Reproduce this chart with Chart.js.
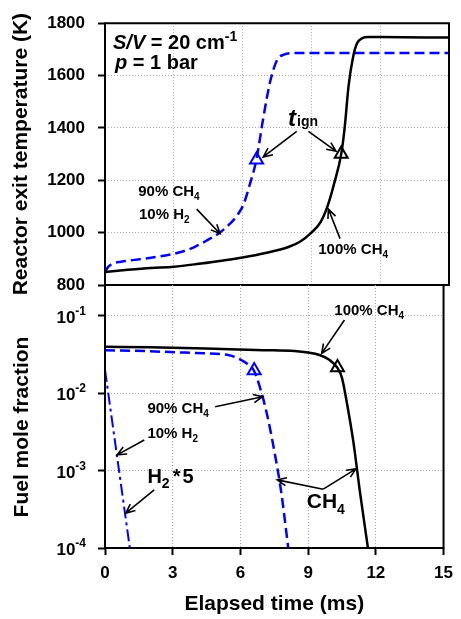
<!DOCTYPE html>
<html>
<head>
<meta charset="utf-8">
<script src="https://cdn.jsdelivr.net/npm/chart.js@4.4.1/dist/chart.umd.min.js"></script>
<style>
  html, body { margin: 0; padding: 0; background: #fff; }
  #wrap { position: relative; width: 461px; height: 619px; }
  #wrap canvas { position: absolute; left: 0; top: 0; }
</style>
</head>
<body>
<div id="wrap">
  <canvas id="tempChart" width="461" height="619"></canvas>
  <canvas id="fracChart" width="461" height="619"></canvas>
</div>
<script>
const FONT = "'Liberation Sans', Arial, Helvetica, sans-serif";

// axes
const timeTicks = [0, 3, 6, 9, 12, 15];
const tempTicks = [800, 1000, 1200, 1400, 1600, 1800];
const fracTickExps = [-4, -3, -2, -1];

// reactor exit temperature (K) vs elapsed time (ms)
const tempCH4Time = [0, 1, 2, 3, 4, 5, 6, 7, 8, 8.5, 9, 9.4, 9.7, 10, 10.3, 10.45, 10.62, 10.82, 11.0, 11.2, 11.5, 12, 15];
const tempCH4 = [850, 858, 865, 870, 880, 892, 905, 922, 945, 965, 1000, 1040, 1100, 1190, 1300, 1400, 1560, 1672, 1725, 1742, 1747, 1747, 1745];
const tempMixTime = [0, 0.15, 0.35, 0.7, 1.2, 2, 2.7, 3.3, 3.9, 4.4, 5.0, 5.45, 5.8, 6.05, 6.3, 6.6, 6.9, 7.2, 7.5, 7.8, 8.2, 9, 15];
const tempMix = [850, 870, 882, 889, 895, 904, 914, 926, 945, 968, 1000, 1034, 1070, 1110, 1180, 1278, 1437, 1576, 1659, 1680, 1686, 1686, 1686];

// fuel mole fraction vs elapsed time (ms)
const fracCH4Time = [0, 2, 4, 5.5, 7, 8.4, 9, 9.5, 9.9, 10.3, 10.5, 10.7, 11.0, 11.3, 11.65];
const fracCH4 = [0.0398, 0.0392, 0.0382, 0.0370, 0.0360, 0.0350, 0.0335, 0.0312, 0.0275, 0.0212, 0.0158, 0.0080, 0.0024, 0.00052, 0.0001];
const fracMixTime = [0, 2, 4, 5.5, 6.0, 6.3, 6.6, 6.9, 7.2, 7.5, 7.8, 8.12];
const fracMix = [0.0360, 0.0348, 0.0330, 0.0310, 0.0272, 0.0240, 0.0195, 0.0110, 0.0050, 0.00180, 0.00055, 0.0001];
const fracH2Time = [0, 0.25, 0.5, 0.75, 1.1];
const fracH2x5 = [0.02, 0.006, 0.0018, 0.00054, 0.0001];

// ignition markers (t_ign)
const ignMix = { t: 6.61, temp: 1278, frac: 0.0196 };
const ignCH4 = { t: 10.3, temp: 1300, frac: 0.0215 };

const BLUE = '#0000ff';
const toXY = (xs, ys) => xs.map((x, i) => ({ x, y: ys[i] }));
const lg = e => Math.pow(10, e);

// parts: [text, size, italic, baselineShift, gapBefore]
const drawParts = (ctx, x, y, parts) => {
  let cx = x;
  parts.forEach(([text, size, italic, shift, gap]) => {
    ctx.font = `${italic ? 'italic ' : ''}bold ${size}px ${FONT}`;
    cx += gap || 0;
    ctx.fillText(text, cx, y + (shift || 0));
    cx += ctx.measureText(text).width;
  });
};

const drawArrow = (ctx, x0, y0, x1, y1) => {
  const ang = Math.atan2(y1 - y0, x1 - x0);
  const head = 10, spread = 0.42;
  ctx.beginPath();
  ctx.moveTo(x0, y0);
  ctx.lineTo(x1, y1);
  ctx.moveTo(x1 - head * Math.cos(ang - spread), y1 - head * Math.sin(ang - spread));
  ctx.lineTo(x1, y1);
  ctx.lineTo(x1 - head * Math.cos(ang + spread), y1 - head * Math.sin(ang + spread));
  ctx.stroke();
};

// notes: text in data coordinates, arrows from -> to in data coordinates
const annotate = notes => ({
  id: 'annotate',
  afterDraw(chart) {
    const { ctx, scales: { x, y } } = chart;
    ctx.save();
    ctx.fillStyle = '#000';
    ctx.strokeStyle = '#000';
    ctx.lineWidth = 1.6;
    ctx.textAlign = 'left';
    ctx.textBaseline = 'alphabetic';
    notes.forEach(n => {
      if (n.arrow) {
        const [a, b, c, d] = n.arrow;
        drawArrow(ctx, x.getPixelForValue(a), y.getPixelForValue(b), x.getPixelForValue(c), y.getPixelForValue(d));
      } else {
        drawParts(ctx, x.getPixelForValue(n.at[0]), y.getPixelForValue(n.at[1]), n.parts);
      }
    });
    ctx.restore();
  }
});

const frame = sides => ({
  id: 'frame',
  afterDraw(chart) {
    const { ctx, chartArea: a } = chart;
    ctx.save();
    ctx.strokeStyle = '#000';
    ctx.lineWidth = 2;
    ctx.beginPath();
    if (sides.includes('t')) { ctx.moveTo(a.left - 1, a.top); ctx.lineTo(a.right + 1, a.top); }
    if (sides.includes('b')) { ctx.moveTo(a.left - 1, a.bottom); ctx.lineTo(a.right + 1, a.bottom); }
    if (sides.includes('l')) { ctx.moveTo(a.left, a.top); ctx.lineTo(a.left, a.bottom); }
    if (sides.includes('r')) { ctx.moveTo(a.right, a.top); ctx.lineTo(a.right, a.bottom); }
    ctx.stroke();
    ctx.restore();
  }
});

const fracLabels = {
  id: 'fracLabels',
  afterDraw(chart) {
    const { ctx, scales: { y } } = chart;
    ctx.save();
    ctx.fillStyle = '#000';
    ctx.textBaseline = 'alphabetic';
    fracTickExps.forEach(e => {
      const py = y.getPixelForValue(lg(e));
      ctx.font = `bold 17px ${FONT}`;
      const w1 = ctx.measureText('10').width;
      ctx.font = `bold 12px ${FONT}`;
      const w2 = ctx.measureText(String(e)).width;
      const x0 = 86 - w1 - w2;
      drawParts(ctx, x0, py + 7, [['10', 17], [String(e), 12, false, -8]]);
    });
    ctx.font = `bold 21px ${FONT}`;
    ctx.textAlign = 'center';
    ctx.textBaseline = 'middle';
    ctx.translate(22, 427);
    ctx.rotate(-Math.PI / 2);
    ctx.fillText('Fuel mole fraction', 0, 0);
    ctx.restore();
  }
};

const gridStyle = { color: '#a8a8a8', lineWidth: 1, tickLength: 7, tickWidth: 2, tickColor: '#000' };
const tickFont = { family: FONT, size: 17, weight: 'bold' };
const titleFont = { family: FONT, size: 21, weight: 'bold' };

const lineSet = (data, color, dash, width) => ({
  data, borderColor: color, borderWidth: width, borderDash: dash,
  pointRadius: 0, fill: false, cubicInterpolationMode: 'monotone'
});
const markerSet = (pt, color) => ({
  data: [pt], showLine: false, pointStyle: 'triangle', pointRadius: 7.5,
  pointBorderWidth: 2, pointBorderColor: color, pointBackgroundColor: '#fff'
});

new Chart(document.getElementById('tempChart'), {
  type: 'line',
  data: {
    datasets: [
      lineSet(toXY(tempCH4Time, tempCH4), '#000', [], 2.5),
      lineSet(toXY(tempMixTime, tempMix), BLUE, [10, 5], 2.5),
      markerSet({ x: ignMix.t, y: ignMix.temp }, BLUE),
      markerSet({ x: ignCH4.t, y: ignCH4.temp }, '#000')
    ]
  },
  options: {
    responsive: false, animation: false, devicePixelRatio: 1,
    layout: { padding: { left: 0, top: 21, right: 12, bottom: 619 - 285 } },
    plugins: { legend: { display: false }, tooltip: { enabled: false } },
    scales: {
      x: {
        type: 'linear', min: 0, max: 15,
        afterBuildTicks: s => { s.ticks = timeTicks.map(value => ({ value })); },
        afterFit: s => { s.height = 0; },
        ticks: { display: false },
        grid: { ...gridStyle, drawTicks: false },
        border: { display: false, dash: [1, 2] }
      },
      y: {
        min: 800, max: 1800,
        afterBuildTicks: s => { s.ticks = tempTicks.map(value => ({ value })); },
        afterFit: s => { s.width = 105; },
        ticks: { color: '#000', font: tickFont, padding: 13, callback: v => String(v) },
        grid: gridStyle,
        border: { display: false, dash: [1, 2] },
        title: { display: true, text: 'Reactor exit temperature (K)', color: '#000', font: titleFont, padding: { top: 9, bottom: 0 } }
      }
    }
  },
  plugins: [frame('tblr'), annotate([
    { at: [0.35, 1701], parts: [['S/V', 20, true], [' = 20 cm', 20], ['-1', 14, false, -8]] },
    { at: [0.44, 1626], parts: [['p', 20, true], [' = 1 bar', 20]] },
    { at: [7.98, 1406], parts: [['t', 24, true], ['ign', 14, false, 0, 1]] },
    { arrow: [8.36, 1387, 6.9, 1289] },
    { arrow: [8.87, 1387, 10.07, 1311] },
    { at: [1.45, 1141], parts: [['90% CH', 15], ['4', 10, false, 4]] },
    { at: [1.48, 1053], parts: [['10% H', 15], ['2', 10, false, 4]] },
    { arrow: [4.0, 1090, 5.02, 996] },
    { at: [9.3, 920], parts: [['100% CH', 15], ['4', 10, false, 4]] },
    { arrow: [10.25, 977, 9.74, 1090] }
  ])]
});

new Chart(document.getElementById('fracChart'), {
  type: 'line',
  data: {
    datasets: [
      lineSet(toXY(fracCH4Time, fracCH4), '#000', [], 2.5),
      lineSet(toXY(fracMixTime, fracMix), BLUE, [10, 5], 2.5),
      { ...lineSet(toXY(fracH2Time, fracH2x5), BLUE, [12, 4, 3, 4], 2), cubicInterpolationMode: 'default', tension: 0 },
      markerSet({ x: ignMix.t, y: ignMix.frac }, BLUE),
      markerSet({ x: ignCH4.t, y: ignCH4.frac }, '#000')
    ]
  },
  options: {
    responsive: false, animation: false, devicePixelRatio: 1,
    layout: { padding: { left: 0, top: 285, right: 12, bottom: 0 } },
    plugins: { legend: { display: false }, tooltip: { enabled: false } },
    scales: {
      x: {
        type: 'linear', min: 0, max: 15,
        afterBuildTicks: s => { s.ticks = timeTicks.map(value => ({ value })); },
        afterFit: s => { s.height = 619 - 548; },
        ticks: { color: '#000', font: tickFont, padding: 8, maxRotation: 0 },
        grid: gridStyle,
        border: { display: false, dash: [1, 2] },
        title: { display: true, text: 'Elapsed time (ms)', color: '#000', font: titleFont, padding: { top: 0, bottom: 2 } }
      },
      y: {
        type: 'logarithmic', min: 1e-4, max: 0.25,
        afterBuildTicks: s => { s.ticks = fracTickExps.map(e => ({ value: lg(e) })); },
        afterFit: s => { s.width = 105; },
        ticks: { display: false },
        grid: gridStyle,
        border: { display: false, dash: [1, 2] }
      }
    }
  },
  plugins: [frame('blr'), fracLabels, annotate([
    { at: [10.16, lg(-0.99)], parts: [['100% CH', 15], ['4', 10, false, 4]] },
    { arrow: [10.61, lg(-1.055), 9.6, lg(-1.485)] },
    { at: [1.88, lg(-2.255)], parts: [['90% CH', 15], ['4', 10, false, 4]] },
    { arrow: [4.88, lg(-2.174), 6.98, lg(-2.045)] },
    { at: [1.88, lg(-2.578)], parts: [['10% H', 15], ['2', 10, false, 4]] },
    { arrow: [1.74, lg(-2.604), 0.54, lg(-2.797)] },
    { at: [1.88, lg(-3.16)], parts: [['H', 20], ['2', 14, false, 5], ['*', 20, false, 0, 3], ['5', 20, false, 0, 2]] },
    { arrow: [2.18, lg(-3.249), 0.92, lg(-3.55)] },
    { at: [8.94, lg(-3.485)], parts: [['CH', 21], ['4', 14, false, 6]] },
    { arrow: [9.67, lg(-3.24), 7.63, lg(-3.12)] },
    { arrow: [9.67, lg(-3.24), 11.12, lg(-2.978)] }
  ])]
});
</script>
</body>
</html>
